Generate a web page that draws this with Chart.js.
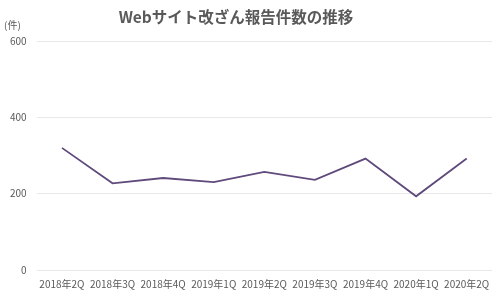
<!DOCTYPE html>
<html lang="ja">
<head>
  <meta charset="UTF-8">
  <title>Webサイト改ざん報告件数の推移</title>
  <script src="https://cdn.jsdelivr.net/npm/chart.js"></script>
  <style>
    html, body {
      margin: 0;
      padding: 0;
      background: #fff;
    }
    #wrap {
      width: 500px;
      height: 296px;
    }
  </style>
</head>
<body>
  <div id="wrap"><canvas id="chart"></canvas></div>

  <script>
    const quarters = ['2018年2Q', '2018年3Q', '2018年4Q', '2019年1Q', '2019年2Q',
                      '2019年3Q', '2019年4Q', '2020年1Q', '2020年2Q'];
    const reports = [320, 227, 241, 230, 257, 236, 292, 193, 292];
    const yTicks = [0, 200, 400, 600];

    const font = '"Noto Sans CJK JP", "Noto Sans", sans-serif';
    const gray = '#595959';

    // title and unit label drawn at fixed spots
    const labels = {
      id: 'labels',
      afterDraw(chart) {
        const c = chart.ctx;
        c.save();
        c.fillStyle = gray;
        c.textBaseline = 'middle';
        c.textAlign = 'center';
        c.font = 'bold 15.5px ' + font;
        c.fillText('Webサイト改ざん報告件数の推移', 236, 17);
        c.textAlign = 'left';
        c.font = '10px ' + font;
        c.fillText('(件)', 4, 25);
        c.restore();
      }
    };

    new Chart(document.getElementById('chart'), {
      type: 'line',
      data: {
        labels: quarters,
        datasets: [{
          data: reports,
          borderColor: '#604a7b',
          borderWidth: 1.8,
          pointRadius: 0,
          tension: 0
        }]
      },
      options: {
        responsive: true,
        maintainAspectRatio: false,
        animation: false,
        layout: { padding: { top: 41, right: 8, left: 0, bottom: 6 } },
        plugins: {
          legend: { display: false },
          tooltip: { enabled: false }
        },
        scales: {
          x: {
            offset: true,
            grid: { display: false },
            border: { display: false },
            ticks: { color: gray, font: { family: font, size: 10 }, maxRotation: 0, autoSkip: false, padding: 0 }
          },
          y: {
            min: yTicks[0],
            max: yTicks[yTicks.length - 1],
            afterBuildTicks: axis => { axis.ticks = yTicks.map(v => ({ value: v })); },
            grid: { color: '#e8e8e8', drawTicks: false },
            border: { display: false },
            ticks: { color: gray, font: { family: font, size: 10 }, padding: 10 }
          }
        }
      },
      plugins: [labels]
    });
  </script>
</body>
</html>
